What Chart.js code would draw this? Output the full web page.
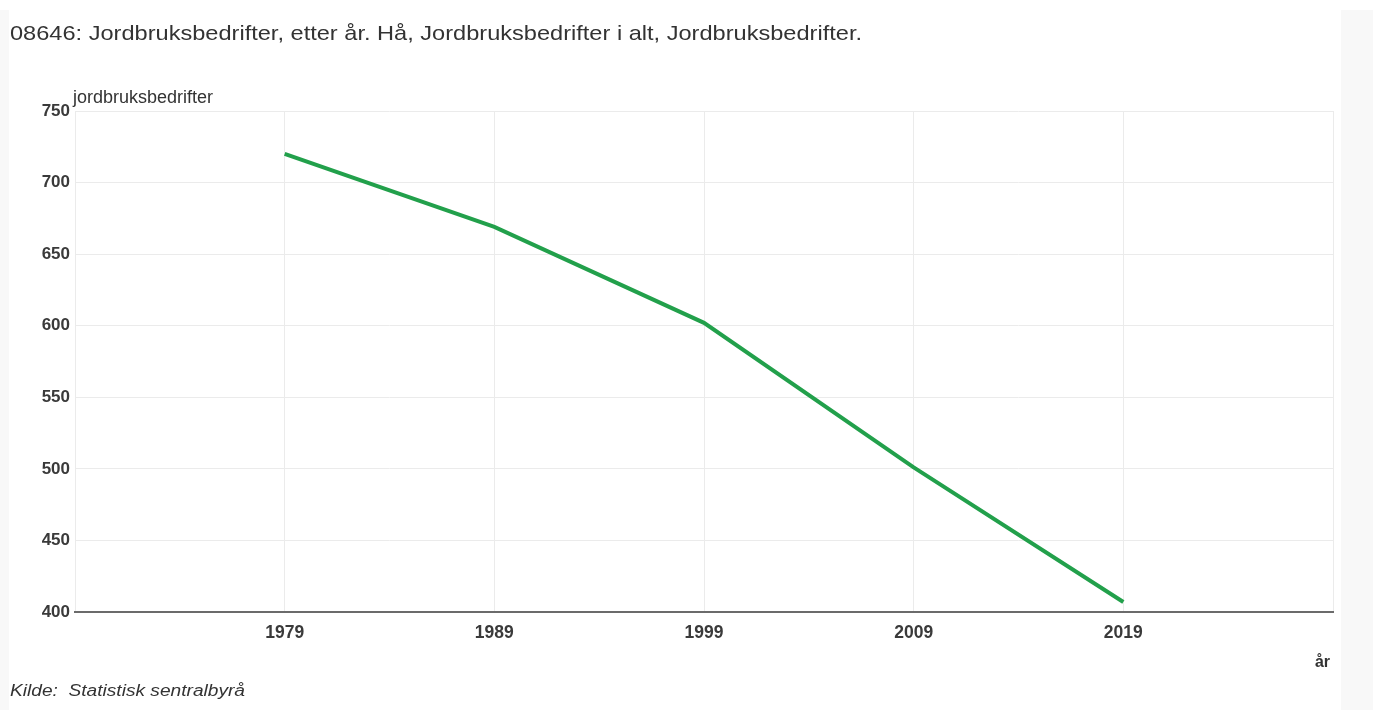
<!DOCTYPE html>
<html>
<head>
<meta charset="utf-8">
<script src="https://cdn.jsdelivr.net/npm/chart.js@4/dist/chart.umd.min.js"></script>
<style>
  html, body { margin: 0; padding: 0; background: #ffffff; width: 1373px; height: 710px; overflow: hidden; font-family: "Liberation Sans", Arial, sans-serif; }
  #leftstrip { position: absolute; left: 0; top: 10px; width: 9px; height: 700px; background: #f8f8f8; }
  #rightstrip { position: absolute; left: 1341px; top: 10px; width: 32px; height: 700px; background: #f8f8f8; }
  #title { position: absolute; left: 10px; top: 20px; font-size: 21px; line-height: 26px; color: #333; white-space: nowrap; transform-origin: 0 0; }
  #footer { position: absolute; left: 10px; top: 681px; font-size: 16px; line-height: 20px; font-style: italic; color: #333; white-space: nowrap; transform-origin: 0 0; }
  #wrap { position: absolute; left: 0; top: 0; width: 1373px; height: 710px; }
</style>
</head>
<body>
<div id="leftstrip"></div>
<div id="rightstrip"></div>
<div id="wrap"><canvas id="c"></canvas></div>
<div id="title">08646: Jordbruksbedrifter, etter år. Hå, Jordbruksbedrifter i alt, Jordbruksbedrifter.</div>
<div id="footer">Kilde:&nbsp; Statistisk sentralbyrå</div>
<script>
const years = [1979, 1989, 1999, 2009, 2019];
const farms = [720, 669, 602, 501, 407];
const yTicks = [400, 450, 500, 550, 600, 650, 700, 750];
const yAxisTitle = 'jordbruksbedrifter';
const xAxisTitle = 'år';

function fitWidth(id, target) {
  const el = document.getElementById(id);
  const w = el.getBoundingClientRect().width;
  el.style.transform = 'scaleX(' + (target / w) + ')';
}
fitWidth('title', 852);
fitWidth('footer', 235);

const labelsPlugin = {
  id: 'axisLabels',
  afterDraw(chart) {
    const ctx = chart.ctx;
    const a = chart.chartArea;
    ctx.save();
    ctx.fillStyle = '#333';
    ctx.font = '18px "Liberation Sans", Arial, sans-serif';
    ctx.textBaseline = 'alphabetic';
    ctx.textAlign = 'left';
    ctx.fillText(yAxisTitle, a.left - 2, a.top - 8);
    ctx.font = 'bold 16px "Liberation Sans", Arial, sans-serif';
    ctx.textAlign = 'right';
    ctx.fillText(xAxisTitle, a.right - 3, a.bottom + 55);
    ctx.restore();
  }
};

new Chart(document.getElementById('c'), {
  type: 'line',
  data: {
    datasets: [{
      data: years.map((y, i) => ({ x: y, y: farms[i] })),
      borderColor: '#22a04b',
      borderWidth: 4,
      pointRadius: 0,
      tension: 0,
      fill: false
    }]
  },
  options: {
    responsive: true,
    maintainAspectRatio: false,
    animation: false,
    layout: { padding: { left: 0, right: 40, top: 111, bottom: 0 } },
    plugins: { legend: { display: false }, tooltip: { enabled: false }, title: { display: false } },
    scales: {
      x: {
        type: 'linear',
        min: years[0] - 10,
        max: years[years.length - 1] + 10,
        afterBuildTicks(scale) {
          const t = [scale.min];
          years.forEach(y => t.push(y));
          t.push(scale.max);
          scale.ticks = t.map(v => ({ value: v }));
        },
        afterFit(scale) { scale.height = 98; },
        ticks: {
          callback: v => (years.includes(v) ? String(v) : ''),
          font: { family: '"Liberation Sans", Arial, sans-serif', size: 17.5, weight: 'bold' },
          color: '#3a3a3a',
          padding: 11,
          maxRotation: 0,
          autoSkip: false
        },
        grid: { color: '#ebebeb', lineWidth: 1, drawTicks: false },
        border: { display: true, color: '#6b6b6b', width: 2 }
      },
      y: {
        min: yTicks[0],
        max: yTicks[yTicks.length - 1],
        afterBuildTicks(scale) { scale.ticks = yTicks.map(v => ({ value: v })); },
        afterFit(scale) { scale.width = 75; },
        ticks: {
          font: { family: '"Liberation Sans", Arial, sans-serif', size: 17, weight: 'bold' },
          color: '#3a3a3a',
          padding: 5
        },
        grid: { color: '#ebebeb', lineWidth: 1, drawTicks: false },
        border: { display: false }
      }
    }
  },
  plugins: [labelsPlugin]
});
</script>
</body>
</html>
